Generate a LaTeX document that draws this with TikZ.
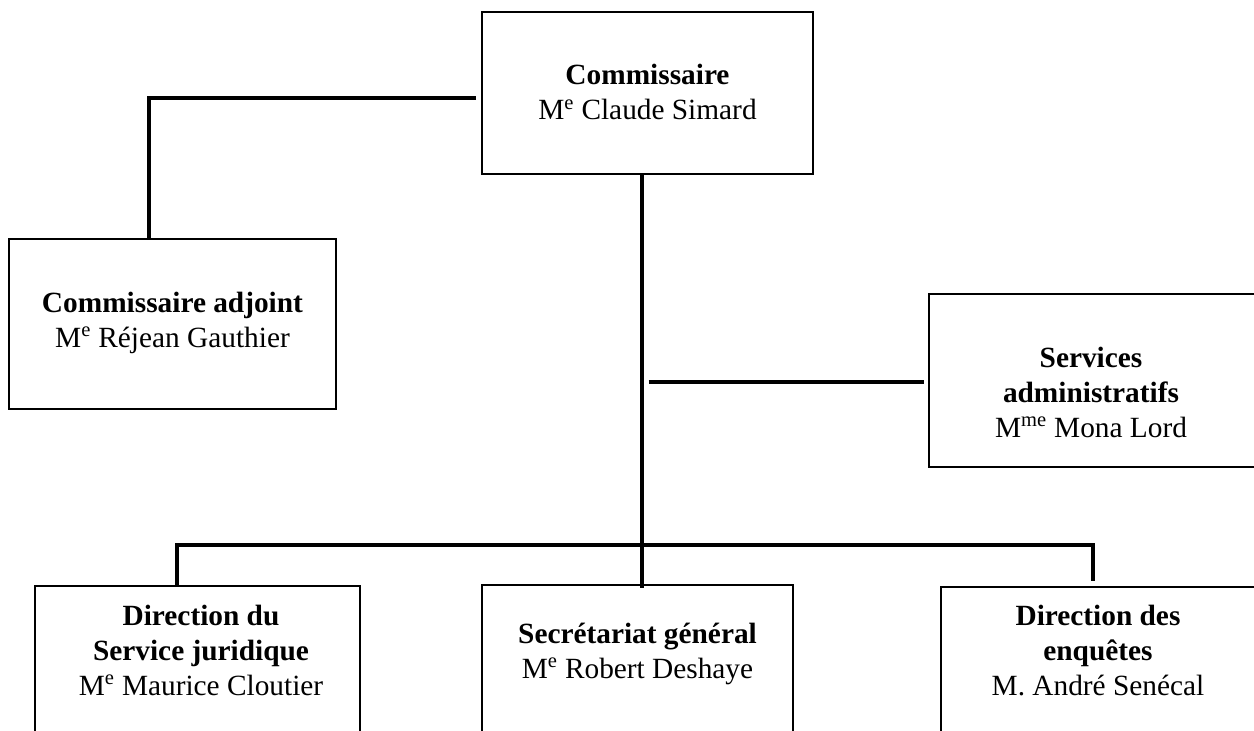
\documentclass[tikz,border=0pt]{standalone}
\usepackage{fontspec}
\setmainfont{Liberation Serif}
\usetikzlibrary{fit,calc}
\newcommand\boxlines[1]{\begin{tabular}[t]{@{}c@{}}#1\end{tabular}}
\begin{document}
\begin{tikzpicture}[x=0.75pt,y=-0.75pt,
  box/.style={draw=black, line width=1.3pt, inner sep=0pt, rectangle},
  conn/.style={draw=black, line width=3pt},
  txt/.style={inner sep=0pt, font=\fontsize{22}{26.25}\selectfont, anchor=base}]
\useasboundingbox (0,0) rectangle (1254,731);
\clip (0,0) rectangle (1254,731);
% boxes
\node[box, fit={(482,12) (813,174)}] (comm) {};
\node[box, fit={(9,239) (336,409)}] (adj) {};
\node[box, fit={(929,294) (1264,467)}] (serv) {};
\node[box, fit={(35,586) (360,750)}] (dsj) {};
\node[box, fit={(482,585) (793,750)}] (sec) {};
\node[box, fit={(941,587) (1264,750)}] (enq) {};
% texts
\node[txt] (commt) at (647.5,85) {\boxlines{\textbf{Commissaire}\\M\textsuperscript{e} Claude Simard}};
\node[txt] (adjt) at (172.5,312) {\boxlines{\textbf{Commissaire adjoint}\\M\textsuperscript{e} Réjean Gauthier}};
\node[txt] (servt) at (1091,367) {\boxlines{\textbf{Services}\\\textbf{administratifs}\\M\textsuperscript{me} Mona Lord}};
\node[txt] (dsjt) at (201,625) {\boxlines{\textbf{Direction du}\\\textbf{Service juridique}\\M\textsuperscript{e} Maurice Cloutier}};
\node[txt] (sect) at (637.5,643) {\boxlines{\textbf{Secrétariat général}\\M\textsuperscript{e} Robert Deshaye}};
\node[txt] (enqt) at (1098,625) {\boxlines{\textbf{Direction des}\\\textbf{enquêtes}\\M. André Senécal}};
% connectors
\coordinate (tl) at (149,98);
\coordinate (mx) at (641.5,0);
\coordinate (bl) at (177,545);
\coordinate (br) at (1093,545);
\draw[conn] ($(comm.west |- tl)+(-5,0)$) -- (tl) -- (adj.north -| tl);
\draw[conn] (comm.south -| mx) -- ($(sec.north -| mx)+(0,4)$);
\draw[conn] ($(serv.west -| mx)+(7,1.5)$) -- ($(serv.west)+(-4,1.5)$);
\draw[conn] (dsj.north -| bl) -- (bl) -- (br) -- ($(enq.north -| br)+(0,-5)$);
\end{tikzpicture}
\end{document}
